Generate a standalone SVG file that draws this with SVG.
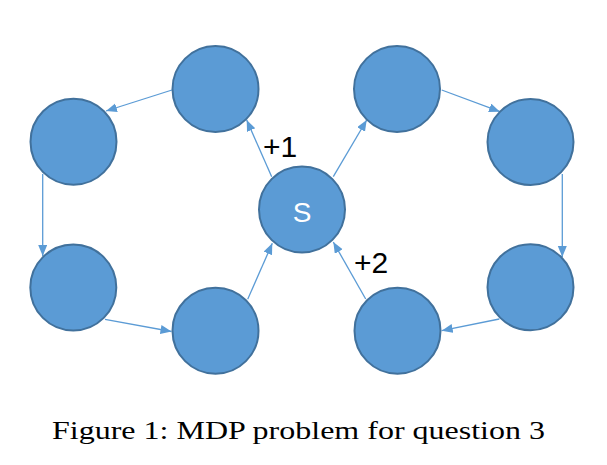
<svg xmlns="http://www.w3.org/2000/svg" width="607" height="465" viewBox="0 0 607 465">
<style>
.node{fill:#5B9BD5;stroke:#41719C;stroke-width:2}
.conn{stroke:#5B9BD5;stroke-width:1.3;fill:none;marker-end:url(#ah)}
.lbl{font-family:"Liberation Sans",Arial,sans-serif;font-size:30px;fill:#000}
.cap{font-family:"Liberation Serif","Times New Roman",serif;font-size:26px;fill:#000}
</style>
<defs>
<marker id="ah" markerUnits="userSpaceOnUse" markerWidth="12" markerHeight="10" refX="11" refY="4.5" orient="auto">
<path d="M0,0 L11,4.5 L0,9 z" fill="#5B9BD5"/>
</marker>
</defs>
<g id="connectors">
<line class="conn" x1="172" y1="90" x2="106" y2="111"/>
<line class="conn" x1="42.7" y1="174" x2="42.7" y2="256"/>
<line class="conn" x1="105" y1="319.3" x2="171.5" y2="331.5"/>
<line class="conn" x1="247.7" y1="299.3" x2="272.3" y2="243.3"/>
<line class="conn" x1="271.7" y1="176.7" x2="246.7" y2="120"/>
<line class="conn" x1="333.3" y1="176.7" x2="366.7" y2="120"/>
<line class="conn" x1="441.7" y1="90" x2="500" y2="111.7"/>
<line class="conn" x1="562.3" y1="174" x2="562.3" y2="257"/>
<line class="conn" x1="499.3" y1="319" x2="441.7" y2="330.7"/>
<line class="conn" x1="365.7" y1="299" x2="333.3" y2="242"/>
</g>
<g id="n_tl"><circle class="node" cx="215.5" cy="89" r="43"/></g>
<g id="n_lt"><circle class="node" cx="73.5" cy="141.7" r="43"/></g>
<g id="n_lb"><circle class="node" cx="73.3" cy="287.5" r="43"/></g>
<g id="n_bl"><circle class="node" cx="215.5" cy="330.7" r="43"/></g>
<g id="n_s"><circle class="node" cx="302" cy="209.5" r="43"/>
<text x="302" y="222" text-anchor="middle" style="font-family:'Liberation Sans',Arial,sans-serif;font-size:28px;fill:#fff">S</text></g>
<g id="n_tr"><circle class="node" cx="397" cy="89" r="43"/></g>
<g id="n_rt"><circle class="node" cx="530.5" cy="142" r="43"/></g>
<g id="n_rb"><circle class="node" cx="530.5" cy="287.2" r="43"/></g>
<g id="n_br"><circle class="node" cx="397.5" cy="330.7" r="43"/></g>
<text class="lbl" x="263" y="157">+1</text>
<text class="lbl" x="354" y="273">+2</text>
<text class="cap" x="52" y="439" textLength="493" lengthAdjust="spacingAndGlyphs">Figure 1: MDP problem for question 3</text>
</svg>
